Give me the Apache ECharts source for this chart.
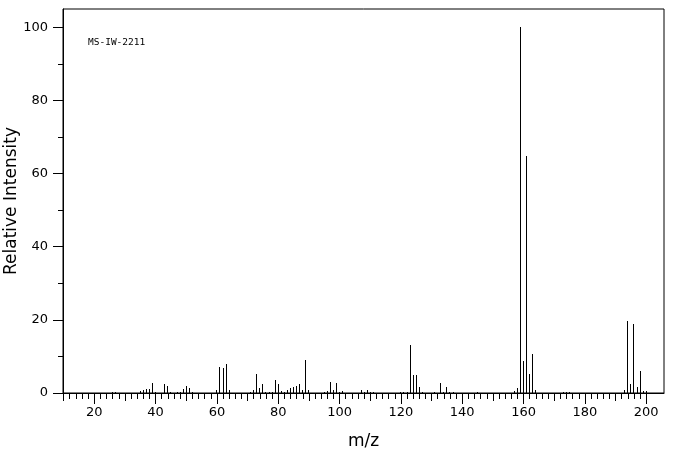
<!DOCTYPE html>
<html>
<head>
<meta charset="utf-8">
<script src="https://cdn.jsdelivr.net/npm/echarts@6/dist/echarts.min.js"></script>
<style>
html,body{margin:0;padding:0;background:#fff;}
#chart{width:676px;height:455px;}
</style>
</head>
<body>
<div id="chart"></div>
<script>
// m/z values of the peaks
var mzValues = [26, 27, 35, 36, 37, 38, 39, 40, 43, 44, 45, 47, 48, 49, 50, 51, 52,
  60, 61, 62, 63, 64, 71, 72, 73, 74, 75, 76, 77, 78, 79, 80, 81, 82,
  83, 84, 85, 86, 87, 88, 89, 90, 95, 96, 97, 98, 99, 100, 101,
  107, 108, 109, 110, 111, 120, 121, 122, 123, 124, 125, 126, 127,
  131, 133, 134, 135, 136, 137, 145,
  157, 158, 159, 160, 161, 162, 163, 164, 173, 174, 175,
  193, 194, 195, 196, 197, 198, 199, 200];
// relative intensities (%)
var intensities = [0.4, 0.4, 0.5, 0.8, 1.1, 1.1, 2.7, 0.3, 2.5, 1.9, 0.3, 0.3, 0.3, 1.1, 1.9, 1.4, 0.3,
  0.8, 7.1, 6.8, 7.9, 0.8, 0.3, 0.8, 5.2, 1.4, 2.5, 0.3, 0.3, 0.3, 3.6, 2.5, 0.5, 0.3,
  0.8, 1.4, 1.6, 1.9, 2.5, 0.8, 9.0, 0.8, 0.3, 0.5, 3.0, 0.8, 2.7, 0.3, 0.5,
  0.8, 0.3, 0.8, 0.3, 0.3, 0.3, 0.3, 0.3, 13.1, 4.9, 4.9, 1.6, 0.3,
  0.3, 2.7, 0.3, 1.6, 0.3, 0.3, 0.3,
  0.5, 1.4, 100, 8.7, 64.8, 5.2, 10.7, 0.8, 0.3, 0.3, 0.3,
  0.8, 19.7, 2.5, 18.9, 1.6, 6.0, 0.5, 0.5];
// tick labels / tick positions
var xLabelTicks = [20, 40, 60, 80, 100, 120, 140, 160, 180, 200];
var xMidTicks = [10, 30, 50, 70, 90, 110, 130, 150, 170, 190];
var xMinorTicks = [];
for (var t = 10; t <= 200; t += 2) xMinorTicks.push(t);
var yLabelTicks = [0, 20, 40, 60, 80, 100];
var yMinorTicks = [10, 30, 50, 70, 90];
var sampleTitle = 'MS-IW-2211';
var xTitle = 'm/z';
var yTitle = 'Relative Intensity';

var peaks = mzValues.map(function (m, i) { return [m, intensities[i]]; });

var XMIN = 9.8, XMAX = 205.8, YMIN = 0, YMAX = 105;
var font = 'DejaVu Sans';

function xAxisBase(extra) {
  var a = {
    type: 'value', min: XMIN, max: XMAX, position: 'bottom',
    axisLine: {show: false, onZero: false},
    splitLine: {show: false},
    axisLabel: {show: false},
    axisTick: {show: false}
  };
  for (var k in extra) a[k] = extra[k];
  return a;
}
function yAxisBase(extra) {
  var a = {
    type: 'value', min: YMIN, max: YMAX, position: 'left',
    axisLine: {show: false, onZero: false},
    splitLine: {show: false},
    axisLabel: {show: false},
    axisTick: {show: false}
  };
  for (var k in extra) a[k] = extra[k];
  return a;
}

var chart = echarts.init(document.getElementById('chart'), null, {renderer: 'canvas'});
chart.setOption({
  animation: false,
  backgroundColor: '#fff',
  title: {
    text: sampleTitle, left: 83, top: 33,
    textStyle: {fontFamily: 'DejaVu Sans Mono', fontSize: 9.5, fontWeight: 'normal', color: '#000'}
  },
  graphic: [{
    type: 'text', x: 12, y: 201, rotation: Math.PI / 2,
    style: {text: yTitle, fill: '#000', font: '17px "DejaVu Sans"', textAlign: 'center', textVerticalAlign: 'middle'}
  }],
  grid: {left: 63, right: 12, top: 9, bottom: 62, show: true, borderColor: '#000', borderWidth: 1,
    backgroundColor: 'transparent', containLabel: false, outerBoundsMode: 'none'},
  xAxis: [
    xAxisBase({
      axisLine: {show: true, onZero: false, lineStyle: {color: '#000', width: 1}},
      axisTick: {show: true, length: 11, customValues: xLabelTicks, lineStyle: {color: '#000', width: 1}},
      axisLabel: {show: true, customValues: xLabelTicks, color: '#000', fontSize: 13, fontFamily: font, margin: 13},
      name: xTitle, nameLocation: 'middle', nameGap: 40, nameMoveOverlap: false,
      nameTextStyle: {color: '#000', fontSize: 17, fontFamily: font}
    }),
    xAxisBase({axisTick: {show: true, length: 8, customValues: xMidTicks, lineStyle: {color: '#000', width: 1}}}),
    xAxisBase({axisTick: {show: true, length: 6, customValues: xMinorTicks, lineStyle: {color: '#000', width: 1}}})
  ],
  yAxis: [
    yAxisBase({
      axisLine: {show: true, onZero: false, lineStyle: {color: '#000', width: 1}},
      axisTick: {show: true, length: 10, customValues: yLabelTicks, lineStyle: {color: '#000', width: 1}},
      axisLabel: {show: true, customValues: yLabelTicks, color: '#000', fontSize: 13, fontFamily: font, margin: 15}
    }),
    yAxisBase({axisTick: {show: true, length: 5, customValues: yMinorTicks, lineStyle: {color: '#000', width: 1}}})
  ],
  series: [{
    type: 'custom',
    xAxisIndex: 0, yAxisIndex: 0,
    data: peaks,
    clip: true,
    renderItem: function (params, api) {
      var base = api.coord([api.value(0), 0]);
      var top = api.coord([api.value(0), api.value(1)]);
      var x = Math.floor(base[0]) + 0.5;
      return {
        type: 'line',
        shape: {x1: x, y1: Math.round(base[1]), x2: x, y2: Math.round(top[1])},
        style: {stroke: '#000', lineWidth: 1}
      };
    }
  }]
});
</script>
</body>
</html>
